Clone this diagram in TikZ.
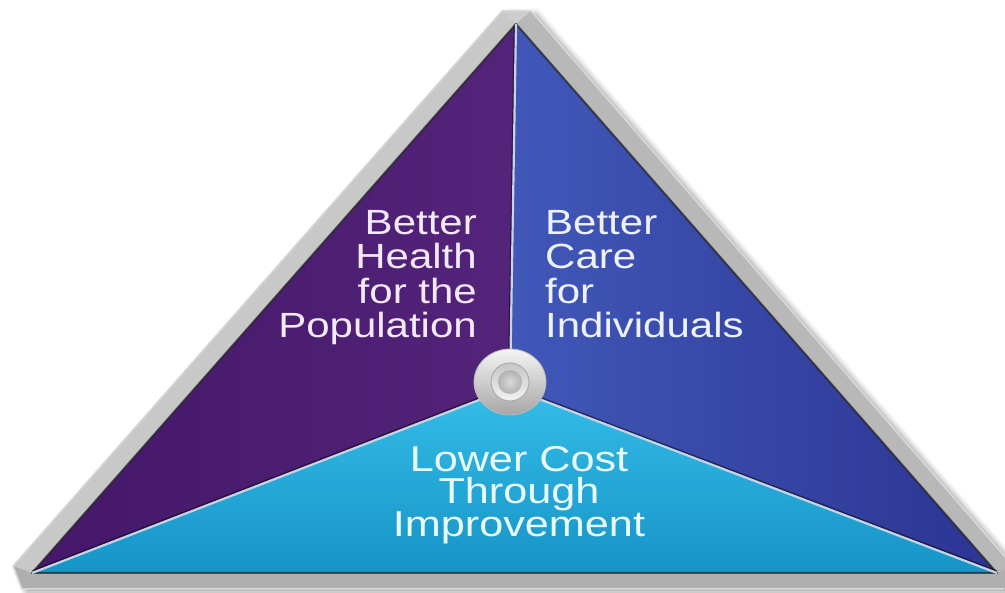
\documentclass[tikz,border=0pt]{standalone}
\usepackage{fontspec}
\newfontfamily\lblfont[FakeStretch=1.2]{Liberation Sans}
\usetikzlibrary{shadows.blur,calc,shapes.geometric}
\definecolor{framegray}{HTML}{BDBDBD}
\definecolor{frameL}{HTML}{C8C8C8}
\definecolor{frameR}{HTML}{B8B8B8}
\definecolor{frameT}{HTML}{CDCDCD}
\definecolor{frameB}{HTML}{AFAFAF}
\definecolor{framelight}{HTML}{D8D8D8}
\definecolor{purpleA}{HTML}{44176A}
\definecolor{purpleB}{HTML}{532479}
\definecolor{blueA}{HTML}{4158B8}
\definecolor{blueB}{HTML}{2C3492}
\definecolor{cyanA}{HTML}{35BDE8}
\definecolor{cyanB}{HTML}{1694C7}
\definecolor{divider}{HTML}{C9D3E6}
\definecolor{txtL}{HTML}{F4E9F8}
\definecolor{txtR}{HTML}{EEF2FF}
\definecolor{txtB}{HTML}{EAFBFF}
\tikzset{
  label/.style={inner sep=0pt, font=\lblfont\fontsize{35}{34.5}\selectfont},
  divline/.style={draw=divider, line width=2.2pt},
  divshadow/.style={draw=black, opacity=0.45, line width=1.6pt},
  edgeline/.style={draw=black!85, opacity=0.75, line width=2pt, line join=round}
}
\begin{document}
\begin{tikzpicture}[x=1pt,y=-1pt]
\useasboundingbox (0,0) rectangle (1005,593);
% coordinates
\coordinate (A) at (516,24);
\coordinate (L) at (32,573);
\coordinate (R) at (997,573);
\coordinate (H) at (510,388);
\coordinate (O1) at (502,11);
\coordinate (O2) at (531,11);
\coordinate (O3) at (1013,566);
\coordinate (O4) at (1004,589);
\coordinate (O5) at (22,589);
\coordinate (O6) at (13,566);
% frame with shadow
\fill[framegray, blur shadow={shadow xshift=5pt, shadow yshift=-3pt, shadow blur radius=6pt, shadow opacity=40}]
  (O1) -- (O2) -- (O3) -- (O4) -- (O5) -- (O6) -- cycle;
\fill[frameT] (O1) -- (O2) -- (A) -- cycle;
\fill[frameL] (O1) -- (A) -- (L) -- (O6) -- cycle;
\fill[frameR] (O2) -- (O3) -- (R) -- (A) -- cycle;
\fill[frameB] (O6) -- (L) -- (R) -- (O3) -- (O4) -- (O5) -- cycle;
\draw[framelight, line width=1.5pt, line join=round]
  (O3) -- (O2) -- (O1) -- (O6) -- (O5) -- (O4);
% faces
\shade[left color=purpleA, right color=purpleB] (A) -- (H) -- (L) -- cycle;
\shade[left color=blueA, right color=blueB] (A) -- (R) -- (H) -- cycle;
\shade[top color=cyanA, bottom color=cyanB] (H) -- (R) -- (L) -- cycle;
% inner edge shadow
\draw[edgeline] (A) -- (R) -- (L) -- cycle;
% dividers
\draw[divshadow] ($(A)+(-1.5,0)$) -- ($(H)+(-1.5,0)$);
\draw[divshadow] ($(H)+(0,-2)$) -- ($(L)+(0,-2)$);
\draw[divshadow] ($(H)+(0,-2)$) -- ($(R)+(0,-2)$);
\draw[divline] (A) -- (H);
\draw[divline] (H) -- (L);
\draw[divline] (H) -- (R);
% hub
\node[ellipse, minimum width=72pt, minimum height=66pt, inner sep=0pt,
      top color=white!92!gray, bottom color=gray!70, draw=gray!55, line width=0.8pt] (hub) at (510,382) {};
\node[circle, minimum size=38pt, inner sep=0pt, top color=gray!45, bottom color=white!90!gray,
      draw=gray!65, line width=1pt] (ring) at (hub.center) {};
\node[circle, minimum size=24pt, inner sep=0pt, inner color=gray!30, outer color=gray!60] (dot) at (hub.center) {};
% labels
\node[label, text=txtL, align=right, anchor=north east] (health) at (477,210)
  {Better\\Health\\for the\\Population};
\node[label, text=txtR, align=left, anchor=north west] (care) at (545,210)
  {Better\\Care\\for\\Individuals};
\node[label, text=txtB, align=center, anchor=north, font=\lblfont\fontsize{36}{32}\selectfont] (cost) at (519,446)
  {Lower Cost\\Through\\Improvement};
\end{tikzpicture}
\end{document}
